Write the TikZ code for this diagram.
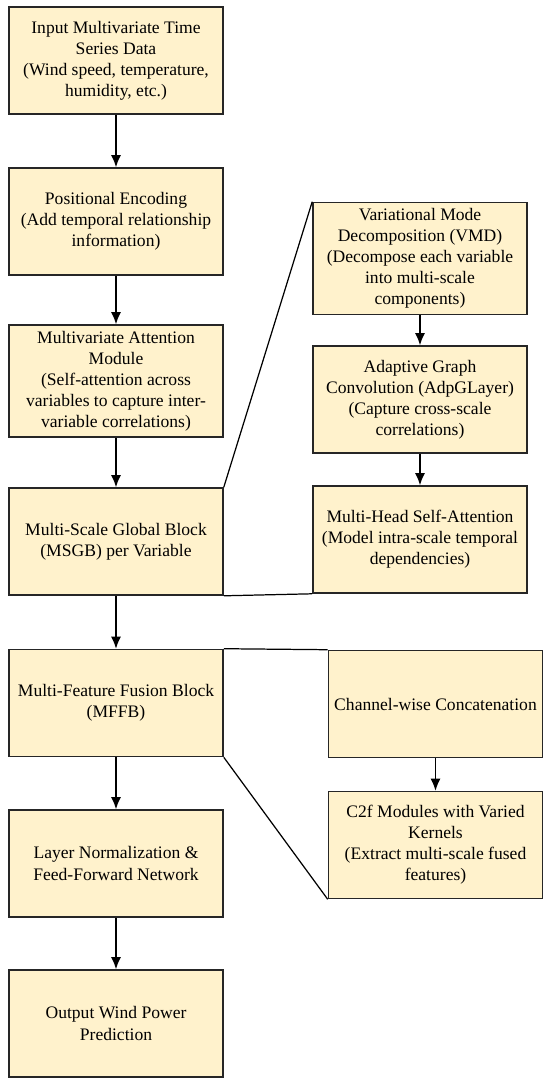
\documentclass[tikz,border=0pt]{standalone}
\usepackage{fontspec}
\setmainfont{Liberation Serif}
\usetikzlibrary{arrows.meta}
\definecolor{boxfill}{HTML}{FFF2CC}
\tikzset{
  blk/.style={draw=black!85, fill=boxfill, line width=0.9pt, minimum width=4.28cm,
    minimum height=2.14cm, align=center, font=\fontsize{10}{12}\selectfont},
  flow/.style={-{Latex[length=2.4mm,width=2mm]}, line width=0.8pt},
  link/.style={line width=0.7pt}
}
\begin{document}
\begin{tikzpicture}[scale=1.0]
\useasboundingbox (0,0) rectangle (11,-21.7);

% main column
\node[blk] (input) at (2.32,-1.21) {Input Multivariate Time\\Series Data\\(Wind speed, temperature,\\humidity, etc.)};
\node[blk] (posenc) at (2.32,-4.43) {Positional Encoding\\(Add temporal relationship\\information)};
\node[blk] (mvatt) at (2.32,-7.62) {Multivariate Attention\\Module\\(Self-attention across\\variables to capture inter-\\variable correlations)};
\node[blk] (msgb) at (2.32,-10.83) {Multi-Scale Global Block\\(MSGB) per Variable};
\node[blk] (mffb) at (2.32,-14.06) {Multi-Feature Fusion Block\\(MFFB)};
\node[blk] (norm) at (2.32,-17.27) {Layer Normalization \&\\Feed-Forward Network};
\node[blk] (output) at (2.32,-20.47) {Output Wind Power\\Prediction};

% MSGB detail
\node[blk] (vmd) at (8.4,-5.17) {Variational Mode\\Decomposition (VMD)\\(Decompose each variable\\into multi-scale\\components)};
\node[blk] (adpg) at (8.4,-7.99) {Adaptive Graph\\Convolution (AdpGLayer)\\(Capture cross-scale\\correlations)};
\node[blk] (mhsa) at (8.4,-10.79) {Multi-Head Self-Attention\\(Model intra-scale temporal\\dependencies)};

% MFFB detail
\node[blk] (concat) at (8.71,-14.08) {Channel-wise Concatenation};
\node[blk] (c2f) at (8.71,-16.9) {C2f Modules with Varied\\Kernels\\(Extract multi-scale fused\\features)};

\draw[flow] (input) -- (posenc);
\draw[flow] (posenc) -- (mvatt);
\draw[flow] (mvatt) -- (msgb);
\draw[flow] (msgb) -- (mffb);
\draw[flow] (mffb) -- (norm);
\draw[flow] (norm) -- (output);

\draw[flow] (vmd) -- (adpg);
\draw[flow] (adpg) -- (mhsa);
\draw[flow] (concat) -- (c2f);

\draw[link] (msgb.north east) -- (vmd.north west);
\draw[link] (msgb.south east) -- (mhsa.south west);
\draw[link] (mffb.north east) -- (concat.north west);
\draw[link] (mffb.south east) -- (c2f.south west);
\end{tikzpicture}
\end{document}
